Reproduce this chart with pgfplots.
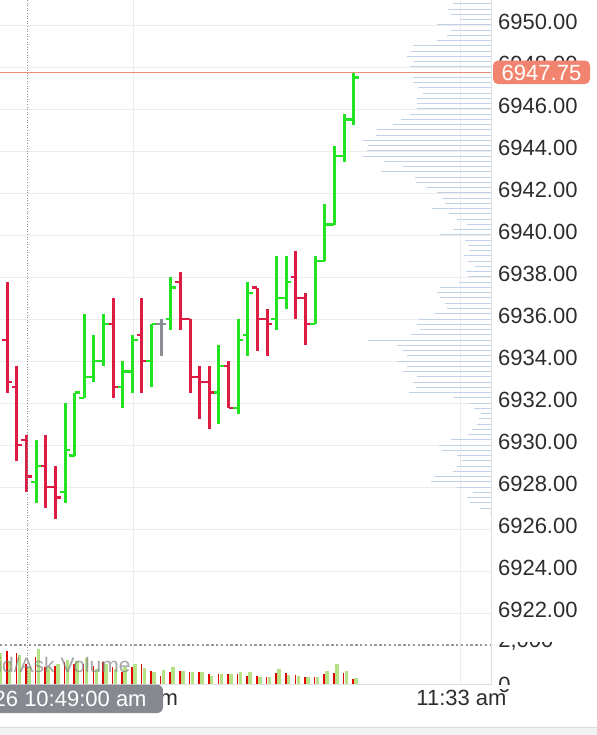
\documentclass[border=0pt]{standalone}
\usepackage{fontspec}
\setmainfont{Liberation Sans}
\usepackage{pgfplots}
\usepackage{pgfplotstable}
\pgfplotsset{compat=1.18}

\definecolor{upg}{RGB}{34,226,34}
\definecolor{dnr}{RGB}{221,28,68}
\definecolor{flat}{RGB}{140,142,150}
\definecolor{vgreen}{RGB}{180,226,132}
\definecolor{vred}{RGB}{226,8,0}
\definecolor{prof}{RGB}{192,210,234}
\definecolor{gridc}{RGB}{236,236,236}
\definecolor{lastp}{RGB}{241,132,110}
\definecolor{lastline}{RGB}{240,140,118}
\definecolor{boxgray}{RGB}{134,137,143}
\definecolor{txt}{RGB}{45,45,45}

% open tick to the left, close tick to the right
\pgfdeclareplotmark{otick}{\pgfpathmoveto{\pgfqpoint{-2.6pt}{0pt}}\pgfpathlineto{\pgfqpoint{0pt}{0pt}}\pgfusepathqstroke}
\pgfdeclareplotmark{ctick}{\pgfpathmoveto{\pgfqpoint{0pt}{0pt}}\pgfpathlineto{\pgfqpoint{2.6pt}{0pt}}\pgfusepathqstroke}

\pgfplotsset{
  ohlc/.style={only marks, mark=otick, mark options={line width=1.1pt, color=#1},
    error bars/y dir=both, error bars/y explicit, error bars/error mark=none,
    error bars/error bar style={line width=1.5pt, color=#1}},
  ctk/.style={only marks, mark=ctick, mark options={line width=1.1pt, color=#1}},
}

% 1-minute bars, index 0..37
\pgfplotstableread{
i o h l c
0 6935.50 6936.50 6934.00 6934.75
1 6935.00 6937.75 6932.50 6933.00
2 6932.75 6933.75 6929.25 6930.00
3 6930.25 6930.50 6927.75 6928.50
5 6929.00 6930.50 6927.00 6928.00
6 6928.00 6929.00 6926.50 6927.50
12 6935.75 6937.00 6932.25 6932.75
15 6935.25 6937.00 6932.50 6934.00
19 6937.75 6938.25 6935.50 6936.00
20 6936.00 6936.00 6932.50 6933.25
21 6933.25 6933.75 6931.25 6933.00
22 6933.00 6933.75 6930.75 6932.50
24 6933.75 6934.00 6931.75 6931.75
27 6937.50 6937.50 6934.50 6936.00
28 6936.00 6936.50 6934.25 6935.75
31 6938.00 6939.25 6936.00 6937.00
32 6937.00 6937.25 6934.75 6935.75
}\downbars

\pgfplotstableread{
i o h l c
4 6928.25 6930.25 6927.25 6929.00
7 6927.75 6932.00 6927.25 6929.75
8 6929.50 6932.50 6929.50 6932.50
9 6932.25 6936.25 6932.25 6933.25
10 6933.25 6935.25 6933.00 6934.00
11 6934.00 6936.25 6933.75 6935.75
13 6932.75 6934.00 6931.75 6933.50
14 6933.50 6935.25 6932.50 6935.00
16 6934.00 6935.75 6932.75 6935.75
18 6936.00 6938.00 6935.50 6937.50
23 6932.50 6934.75 6931.00 6933.75
25 6931.75 6936.00 6931.50 6935.00
26 6935.25 6937.75 6934.25 6937.25
29 6936.00 6939.00 6935.50 6937.00
30 6937.00 6939.00 6936.50 6937.75
33 6935.75 6939.00 6935.75 6938.75
34 6938.75 6941.50 6938.75 6940.50
35 6940.50 6944.25 6940.50 6943.75
36 6943.75 6945.75 6943.50 6945.50
37 6945.50 6947.75 6945.25 6947.50
}\upbars

\pgfplotstableread{
i o h l c
17 6935.75 6936.00 6934.25 6935.75
}\flatbars

% volume per minute: r = red, g = green
\pgfplotstableread{
i r g
0 35 30.6
1 32.6 23.3
2 30.6 29.3
3 20 16.6
4 26.6 35
5 16.6 17.3
6 18.3 20
7 21.6 24
8 20 23.3
9 20 26
10 18.3 15
11 21.6 20
12 16.6 15
13 11.6 16.6
14 17.3 20
15 20 16
16 12.6 11.6
17 8.3 14
18 11.6 17.3
19 12.6 12.6
20 11.6 11.6
21 11.6 11.6
22 10 8.3
23 10 10
24 10 10
25 10 11.6
26 8.3 11.6
27 8.3 7.3
28 6.6 7.3
29 10.6 15
30 10.6 9.3
31 9.3 8.3
32 6.6 6.6
33 6.6 7.3
34 10 13.3
35 10.6 20
36 10.6 13.3
37 5 6
}\vol

% volume profile: price level, length
\pgfplotstableread{
p v
6951.00 38.3
6950.75 42.7
6950.50 40.3
6950.25 31
6950.00 53.7
6949.75 40.3
6949.50 44
6949.25 53.7
6949.00 77.7
6948.75 80.3
6948.50 84.3
6948.25 77
6948.00 81
6947.75 78.7
6947.50 78.3
6947.25 77.7
6947.00 72.7
6946.75 67.7
6946.50 73.7
6946.25 74.3
6946.00 74.3
6945.75 81
6945.50 90.3
6945.25 97.7
6945.00 114.3
6944.75 115
6944.50 127.7
6944.25 122.7
6944.00 123.7
6943.75 127.7
6943.50 107
6943.25 87.7
6943.00 110.3
6942.75 76
6942.50 75
6942.25 65
6942.00 54.3
6941.75 49.3
6941.50 46
6941.25 59.3
6941.00 41.7
6940.75 34.3
6940.50 24.3
6940.25 38.3
6940.00 51
6939.75 26
6939.50 22.7
6939.25 21.7
6939.00 27
6938.75 22.7
6938.50 16
6938.25 25
6938.00 22.7
6937.75 32.3
6937.50 51
6937.25 53.7
6937.00 51
6936.75 46
6936.50 44.3
6936.25 57
6936.00 71.7
6935.75 74.3
6935.50 71
6935.25 80.3
6935.00 122.7
6934.75 93.7
6934.50 89.3
6934.25 84.3
6934.00 94.3
6933.75 84.3
6933.50 87.7
6933.25 73.7
6933.00 78.3
6932.75 75
6932.50 81.7
6932.25 38.3
6932.00 21.7
6931.75 17
6931.50 10.3
6931.25 11.7
6931.00 13.7
6930.75 19.3
6930.50 22.7
6930.25 40.3
6930.00 51.7
6929.75 49.3
6929.50 34.3
6929.25 29.3
6929.00 34.3
6928.75 38.3
6928.50 57
6928.25 60.3
6928.00 34.3
6927.75 17.7
6927.50 23.7
6927.25 21
6927.00 11
6926.75 1
}\profile

\begin{document}
\begin{tikzpicture}
\useasboundingbox (0pt,0pt) rectangle (298.5pt,-367.5pt);
\clip (0pt,0pt) rectangle (298.5pt,-367.5pt);

% price pane
\begin{axis}[
  at={(0pt,0pt)}, anchor=north west,
  width=245.5pt, height=318.5pt, scale only axis,
  xmin=0.2412, xmax=51.28, ymin=6920.857, ymax=6951.19,
  axis line style={draw=none},
  xtick={14.07,48.06}, xticklabels={},
  ytick={6922,6924,...,6950}, yticklabel pos=right,
  scaled y ticks=false,
  major tick length=0pt,
  xmajorgrids, ymajorgrids, grid style={gridc, line width=0.5pt},
  yticklabel style={font=\fontsize{11}{13}\selectfont, text=txt, yshift=1.3pt,
    /pgf/number format/fixed, /pgf/number format/fixed zerofill,
    /pgf/number format/precision=2, /pgf/number format/1000 sep={},
    /pgf/number format/assume math mode=true},
]
\addplot[ohlc=dnr] table[x=i, y=o, y error plus expr=\thisrow{h}-\thisrow{o}, y error minus expr=\thisrow{o}-\thisrow{l}] {\downbars};
\addplot[ctk=dnr] table[x=i, y=c] {\downbars};
\addplot[ohlc=upg] table[x=i, y=o, y error plus expr=\thisrow{h}-\thisrow{o}, y error minus expr=\thisrow{o}-\thisrow{l}] {\upbars};
\addplot[ctk=upg] table[x=i, y=c] {\upbars};
\addplot[ohlc=flat] table[x=i, y=o, y error plus expr=\thisrow{h}-\thisrow{o}, y error minus expr=\thisrow{o}-\thisrow{l}] {\flatbars};
\addplot[ctk=flat] table[x=i, y=c] {\flatbars};
\end{axis}

% volume profile on the right of the price pane
\begin{axis}[
  at={(0pt,0pt)}, anchor=north west,
  width=245.5pt, height=318.5pt, scale only axis,
  xmin=0, xmax=491, x dir=reverse, ymin=6920.857, ymax=6951.19,
  hide axis,
]
\addplot[xcomb, draw=prof, line width=0.5pt] table[x=v, y=p] {\profile};
\end{axis}

% volume pane
\begin{axis}[
  at={(0pt,-318.5pt)}, anchor=north west,
  width=245.5pt, height=23.5pt, scale only axis,
  xmin=0.2412, xmax=51.28, ymin=0, ymax=47,
  axis line style={draw=none},
  xtick={14.07,48.06}, xticklabels={}, ytick=\empty,
  major tick length=0pt,
  xmajorgrids, grid style={gridc, line width=0.5pt},
]
\addplot[ycomb, draw=vgreen, line width=1.75pt] table[x expr=\thisrow{i}+0.25, y=g] {\vol};
\addplot[ycomb, draw=vred, line width=0.8pt] table[x expr=\thisrow{i}-0.06, y=r] {\vol};
\end{axis}

\begin{scope}[x=0.5pt, y=-0.5pt]
  % frame
  \draw[draw=black!12, line width=0.5pt] (491,0) -- (491,684) -- (0,684);
  % pane label
  \node[anchor=base east, text=black!50, opacity=0.7, font=\fontsize{10.5}{12}\selectfont, inner sep=0pt] at (131,672) {Bid/Ask Volume};
  % crosshair
  \draw[black!45, line width=0.5pt, dash pattern=on 0.5pt off 0.8pt] (27,0) -- (27,684);
  \draw[black!40, line width=0.6pt, dash pattern=on 1.2pt off 1.2pt] (0,645) -- (491,645);
  % last price
  \draw[lastline, line width=0.7pt] (0,72.25) -- (491,72.25);
  \fill[lastp, rounded corners=2.5pt] (493,60.5) rectangle (590,84);
  \node[text=white, font=\fontsize{11}{13}\selectfont, inner sep=0pt] at (541.5,72.5) {6947.75};
  % volume scale labels, clipped by the panes
  \node[anchor=base west, text=txt, font=\fontsize{11}{13}\selectfont, inner sep=0pt] at (498,647) {2,000};
  \fill[white] (493,621) rectangle (597,641.5);
  \node[anchor=base west, text=txt, font=\fontsize{11}{13}\selectfont, inner sep=0pt] at (498,692.5) {0};
  \fill[white] (493,684.5) rectangle (597,688.5);
  % time axis
  \node[text=txt, font=\fontsize{11}{13}\selectfont, inner sep=0pt] at (133,697.5) {11:00 am};
  \node[text=txt, font=\fontsize{11}{13}\selectfont, inner sep=0pt] at (461.5,697.5) {11:33 am};
  \fill[boxgray, rounded corners=3pt] (-12,684.5) rectangle (163,713);
  \node[anchor=east, text=white, font=\fontsize{11}{13}\selectfont, inner sep=0pt] at (147,698.5) {26 10:49:00 am};
  % bottom band
  \fill[black!5] (0,727) rectangle (597,735);
  \draw[black!14, line width=0.5pt] (0,727) -- (597,727);
\end{scope}
\end{tikzpicture}
\end{document}
